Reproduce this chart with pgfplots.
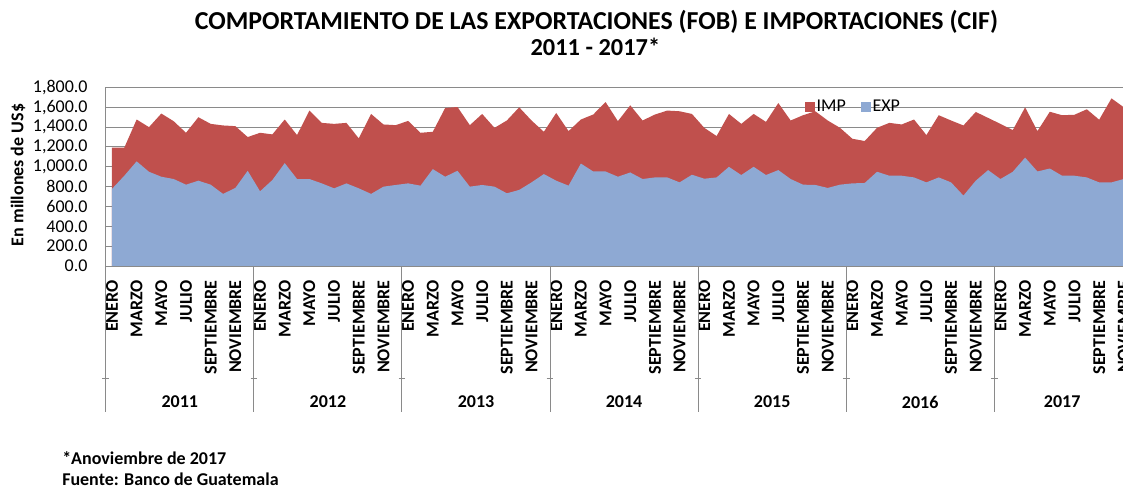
\documentclass[border=0pt]{standalone}
\usepackage{pgfplots}
\pgfplotsset{compat=1.18}
\usepackage{pgfplotstable}
\usepackage{fontspec}
\setmainfont{Carlito}
\definecolor{impred}{HTML}{C0504D}
\definecolor{expblue}{HTML}{8EA9D3}
\definecolor{axgray}{HTML}{8A8A8A}
\newcommand\fs{\fontsize{13.5pt}{16pt}\selectfont}
\pgfplotstableread{
i imp exp
0 1193 777
1 1193 910
2 1477 1055
3 1400 950
4 1537 900
5 1460 877
6 1343 820
7 1500 860
8 1433 820
9 1417 727
10 1410 787
11 1300 960
12 1343 753
13 1327 867
14 1477 1037
15 1320 877
16 1567 877
17 1443 833
18 1433 783
19 1443 833
20 1287 783
21 1533 727
22 1427 800
23 1420 817
24 1463 833
25 1343 810
26 1353 977
27 1593 900
28 1603 960
29 1420 800
30 1533 817
31 1393 800
32 1467 733
33 1600 767
34 1467 843
35 1353 927
36 1543 860
37 1360 810
38 1477 1033
39 1527 953
40 1653 953
41 1460 900
42 1620 943
43 1467 877
44 1527 893
45 1567 893
46 1560 843
47 1533 920
48 1393 880
49 1310 893
50 1533 1000
51 1433 917
52 1533 1000
53 1453 917
54 1643 967
55 1467 877
56 1520 820
57 1560 817
58 1467 787
59 1393 820
60 1283 833
61 1260 837
62 1393 950
63 1443 910
64 1427 910
65 1477 893
66 1320 843
67 1520 893
68 1467 843
69 1417 710
70 1553 860
71 1493 967
72 1433 877
73 1370 950
74 1600 1093
75 1360 953
76 1555 983
77 1520 910
78 1525 910
79 1580 893
80 1475 843
81 1690 843
82 1600 877
}\datatable
\begin{document}
\begin{tikzpicture}
\useasboundingbox (0,0) rectangle (842.25pt,366.75pt);
\node[font=\fontsize{19.4pt}{23pt}\selectfont\bfseries] at (447.3pt,350.25pt) {COMPORTAMIENTO DE LAS EXPORTACIONES (FOB) E IMPORTACIONES (CIF)};
\node[font=\fontsize{18.3pt}{22pt}\selectfont\bfseries] at (446.5pt,331.5pt) {2011 - 2017*};
\node[font=\fs\bfseries, rotate=90] at (13.5pt,235.5pt) {En millones de US\$};
\node[font=\fs\bfseries, anchor=west, inner sep=0pt] at (46.5pt,23.25pt) {*Anoviembre de 2017};
\node[font=\fs\bfseries, anchor=west, inner sep=0pt] at (46.5pt,7.5pt) {Fuente: Banco de Guatemala};
\begin{axis}[
  at={(79.35pt,167.25pt)}, anchor=south west,
  scale only axis, width=768.15pt, height=133.9pt,
  xmin=-0.5, xmax=82.5, ymin=0, ymax=1800,
  clip=false,
  axis line style={draw=none},
  major tick length=0pt,
  ymajorgrids, grid style={axgray, line width=0.75pt},
  ytick={0,200,...,1800},
  scaled y ticks=false,
  yticklabel style={font=\fs, anchor=east, inner sep=0pt, xshift=-13.5pt,
    /pgf/number format/.cd, fixed, fixed zerofill, precision=1, 1000 sep={,}, assume math mode=true},
  xtick={0,2,...,82},
  xticklabels={ENERO,MARZO,MAYO,JULIO,SEPTIEMBRE,NOVIEMBRE,
               ENERO,MARZO,MAYO,JULIO,SEPTIEMBRE,NOVIEMBRE,
               ENERO,MARZO,MAYO,JULIO,SEPTIEMBRE,NOVIEMBRE,
               ENERO,MARZO,MAYO,JULIO,SEPTIEMBRE,NOVIEMBRE,
               ENERO,MARZO,MAYO,JULIO,SEPTIEMBRE,NOVIEMBRE,
               ENERO,MARZO,MAYO,JULIO,SEPTIEMBRE,NOVIEMBRE,
               ENERO,MARZO,MAYO,JULIO,SEPTIEMBRE,NOVIEMBRE},
  xticklabel style={font=\fs\bfseries, yshift=-10.5pt, rotate=90, anchor=east, inner sep=0pt},
  legend columns=2,
  legend style={at={(0.6827,0.8908)}, anchor=west, draw=none, fill=none,
    font=\fs, inner sep=0pt, nodes={inner sep=1.5pt},
    /tikz/every even column/.append style={column sep=10pt}},
  legend image code/.code={\fill[#1] (0pt,-3.5pt) rectangle (7pt,3.5pt);},
]
\addplot[fill=impred, draw=none] table[x=i,y=imp] {\datatable} \closedcycle;
\addlegendentry{IMP}
\addplot[fill=expblue, draw=none] table[x=i,y=exp] {\datatable} \closedcycle;
\addlegendentry{EXP}
\draw[axgray, line width=0.75pt] (rel axis cs:0,0) -- (rel axis cs:1,0);
\draw[axgray, line width=0.75pt] (rel axis cs:0,1) -- (rel axis cs:0,0);
\pgfplotsinvokeforeach{-0.5,11.5,23.5,35.5,47.5,59.5,71.5}{
  \draw[axgray, line width=0.75pt] (axis cs:#1,0) -- ++(0pt,-109.5pt);
  \draw[axgray, line width=0.6pt] (axis cs:#1,0) ++(-2.5pt,-84pt) -- ++(5pt,0pt);
}
\node[font=\fs\bfseries] at (axis cs:5.5,0) [yshift=-102pt] {2011};
\node[font=\fs\bfseries] at (axis cs:17.5,0) [yshift=-102pt] {2012};
\node[font=\fs\bfseries] at (axis cs:29.5,0) [yshift=-102pt] {2013};
\node[font=\fs\bfseries] at (axis cs:41.5,0) [yshift=-102pt] {2014};
\node[font=\fs\bfseries] at (axis cs:53.5,0) [yshift=-102pt] {2015};
\node[font=\fs\bfseries] at (axis cs:65.5,0) [yshift=-102pt] {2016};
\node[font=\fs\bfseries] at (axis cs:77,0) [yshift=-102pt] {2017};
\end{axis}
\end{tikzpicture}
\end{document}
